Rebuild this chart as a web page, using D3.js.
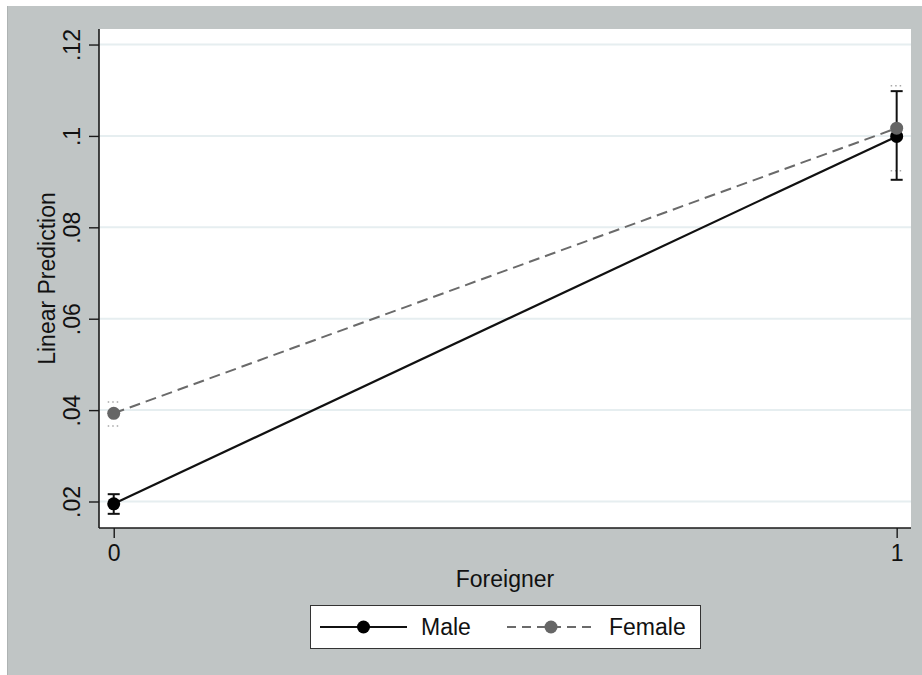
<!DOCTYPE html>
<html>
<head>
<meta charset="utf-8">
<script src="https://cdn.jsdelivr.net/npm/d3@7"></script>
<style>
  html, body { margin: 0; padding: 0; background: #ffffff; }
  svg { display: block; font-family: "Liberation Sans", Arial, sans-serif; }
</style>
</head>
<body>
<svg id="chart" width="922" height="675"></svg>
<script>
// Margins (linear predictions) by foreigner status and gender
const xCategories = [0, 1];
const xTickLabels = ["0", "1"];
const yTicks = [0.02, 0.04, 0.06, 0.08, 0.10, 0.12];
const yTickLabels = [".02", ".04", ".06", ".08", ".1", ".12"];

const seriesNames = ["Male", "Female"];
const maleMean  = [0.0195, 0.0999];
const maleLower = [0.0173, 0.0904];
const maleUpper = [0.0216, 0.1098];
const femaleMean  = [0.0393, 0.1017];
const femaleLower = [0.0365, 0.0924];
const femaleUpper = [0.0418, 0.1110];

const xTitle = "Foreigner";
const yTitle = "Linear Prediction";

const W = 922, H = 675;
const plot = { left: 99, right: 911, top: 29, bottom: 528 };
const fontSize = 23;

const svg = d3.select("#chart");

// Outer graph region
svg.append("rect").attr("x", 7).attr("y", 6).attr("width", W - 7).attr("height", H - 6)
  .attr("fill", "#c0c5c5");
svg.append("line").attr("x1", 7.5).attr("x2", 7.5).attr("y1", 6).attr("y2", H)
  .attr("stroke", "#aeb3b3").attr("stroke-width", 1);

// Plot region
svg.append("rect").attr("x", plot.left).attr("y", plot.top)
  .attr("width", plot.right - plot.left).attr("height", plot.bottom - plot.top)
  .attr("fill", "#ffffff");

const x = d3.scaleLinear().domain([-0.0188, 1.0183]).range([plot.left, plot.right]);
const y = d3.scaleLinear().domain([0.0142, 0.1234]).range([plot.bottom, plot.top]);

// Horizontal grid
svg.append("g").selectAll("line").data(yTicks).join("line")
  .attr("x1", plot.left).attr("x2", plot.right)
  .attr("y1", d => y(d)).attr("y2", d => y(d))
  .attr("stroke", "#e6eef0").attr("stroke-width", 2);

// Y axis
const yAxis = d3.axisLeft(y).tickValues(yTicks)
  .tickFormat((d, i) => yTickLabels[i]).tickSize(10).tickPadding(9);
const gy = svg.append("g").attr("transform", `translate(${plot.left},0)`).call(yAxis);
gy.select(".domain").attr("stroke", "#1a1a1a").attr("stroke-width", 1.6)
  .attr("d", `M0,${plot.top}V${plot.bottom}`);
gy.selectAll(".tick line").attr("stroke", "#1a1a1a").attr("stroke-width", 1.4);
gy.selectAll(".tick text")
  .attr("font-size", fontSize).attr("fill", "#111")
  .attr("transform", "rotate(-90)")
  .attr("x", 0).attr("y", -19)
  .attr("dy", 0)
  .attr("text-anchor", "middle");

// X axis
const xAxis = d3.axisBottom(x).tickValues(xCategories)
  .tickFormat((d, i) => xTickLabels[i]).tickSize(10).tickPadding(6);
const gx = svg.append("g").attr("transform", `translate(0,${plot.bottom})`).call(xAxis);
gx.select(".domain").attr("stroke", "#1a1a1a").attr("stroke-width", 1.6)
  .attr("d", `M${plot.left},0H${plot.right}`);
gx.selectAll(".tick line").attr("stroke", "#1a1a1a").attr("stroke-width", 1.4);
gx.selectAll(".tick text").attr("font-size", fontSize).attr("fill", "#111")
  .attr("dy", 0).attr("y", 33);

// Axis titles
svg.append("text").attr("x", (plot.left + plot.right) / 2).attr("y", 587)
  .attr("text-anchor", "middle").attr("font-size", fontSize).attr("fill", "#111").text(xTitle);
svg.append("text")
  .attr("transform", `translate(55,${(plot.top + plot.bottom) / 2}) rotate(-90)`)
  .attr("text-anchor", "middle").attr("font-size", fontSize).attr("fill", "#111").text(yTitle);

// Female CI caps (faint, dotted)
const capHalf = 6;
const fg = svg.append("g");
xCategories.forEach((c, i) => {
  [femaleLower[i], femaleUpper[i]].forEach(v => {
    fg.append("line")
      .attr("x1", x(c) - capHalf).attr("x2", x(c) + capHalf)
      .attr("y1", y(v)).attr("y2", y(v))
      .attr("stroke", "#a8a8a8").attr("stroke-width", 1.5)
      .attr("stroke-dasharray", "1.5,3");
  });
});

// Male CI bars
const mg = svg.append("g");
xCategories.forEach((c, i) => {
  mg.append("line").attr("x1", x(c)).attr("x2", x(c))
    .attr("y1", y(maleLower[i])).attr("y2", y(maleUpper[i]))
    .attr("stroke", "#111").attr("stroke-width", 2);
  [maleLower[i], maleUpper[i]].forEach(v => {
    mg.append("line")
      .attr("x1", x(c) - capHalf).attr("x2", x(c) + capHalf)
      .attr("y1", y(v)).attr("y2", y(v))
      .attr("stroke", "#111").attr("stroke-width", 2);
  });
});

// Connecting lines
const line = d3.line().x((d, i) => x(xCategories[i])).y(d => y(d));
svg.append("path").datum(maleMean).attr("d", line)
  .attr("fill", "none").attr("stroke", "#111").attr("stroke-width", 2.2);
svg.append("path").datum(femaleMean).attr("d", line)
  .attr("fill", "none").attr("stroke", "#6a6a6a").attr("stroke-width", 2)
  .attr("stroke-dasharray", "11,6");

// Markers (female drawn last, on top)
svg.append("g").selectAll("circle").data(maleMean).join("circle")
  .attr("cx", (d, i) => x(xCategories[i])).attr("cy", d => y(d)).attr("r", 6.5)
  .attr("fill", "#000000");
svg.append("g").selectAll("circle").data(femaleMean).join("circle")
  .attr("cx", (d, i) => x(xCategories[i])).attr("cy", d => y(d)).attr("r", 6.5)
  .attr("fill", "#666666");

// Legend
const lg = svg.append("g");
lg.append("rect").attr("x", 310.5).attr("y", 605.5).attr("width", 390).attr("height", 43)
  .attr("fill", "#ffffff").attr("stroke", "#333").attr("stroke-width", 1);
const ly = 627;
const legendItems = [
  { name: seriesNames[0], x0: 320, x1: 407, color: "#111", mcolor: "#000", dash: null, tx: 421 },
  { name: seriesNames[1], x0: 507, x1: 595, color: "#6a6a6a", mcolor: "#666", dash: "9,6", tx: 609 }
];
legendItems.forEach(it => {
  lg.append("line").attr("x1", it.x0).attr("x2", it.x1).attr("y1", ly).attr("y2", ly)
    .attr("stroke", it.color).attr("stroke-width", 2)
    .attr("stroke-dasharray", it.dash);
  lg.append("circle").attr("cx", (it.x0 + it.x1) / 2).attr("cy", ly).attr("r", 6.5)
    .attr("fill", it.mcolor);
  lg.append("text").attr("x", it.tx).attr("y", ly + 8).attr("font-size", fontSize)
    .attr("fill", "#111").text(it.name);
});
</script>
</body>
</html>
